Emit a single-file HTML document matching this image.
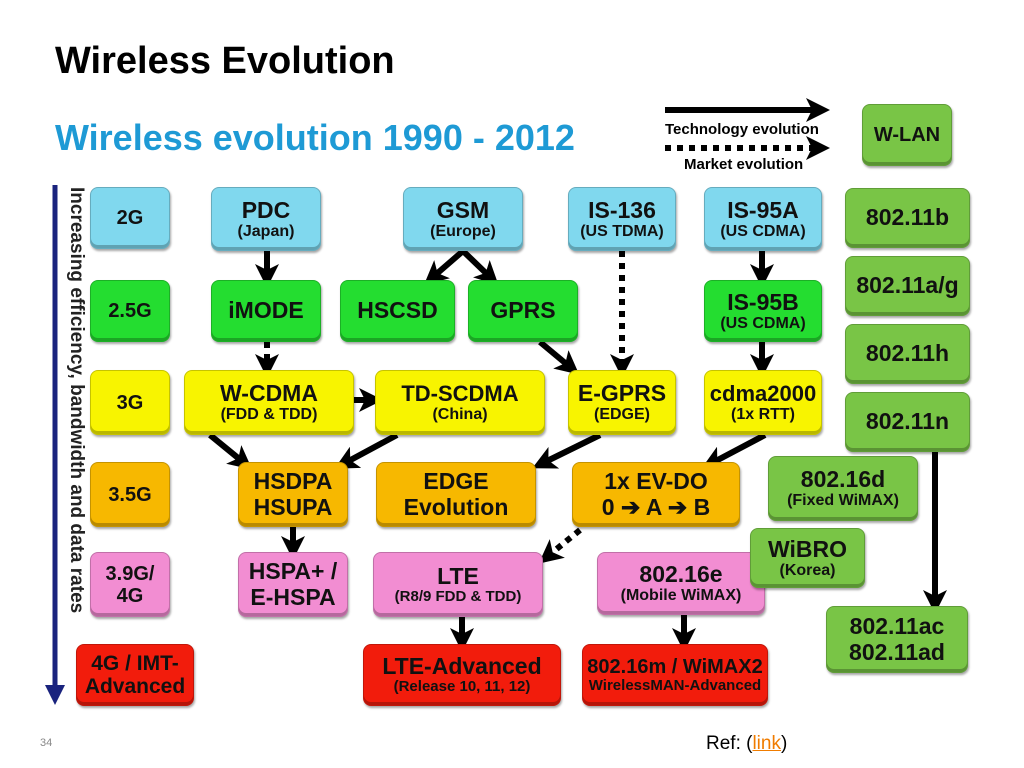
<!DOCTYPE html>
<html><head><meta charset="utf-8"><style>
body{margin:0;width:1024px;height:768px;background:#fff;position:relative;overflow:hidden;font-family:"Liberation Sans",sans-serif}
.b{position:absolute;box-sizing:border-box;border-radius:8px;display:flex;flex-direction:column;align-items:center;justify-content:center;text-align:center;font-weight:bold;color:#111;box-shadow:inset 0 -3px 0 rgba(0,0,0,.25),1px 2px 2px rgba(0,0,0,.35);border:1px solid rgba(0,0,0,.2);line-height:1.1;white-space:nowrap}
.s{font-size:16px}
.c{background:#80d8ee}.g{background:#24dd30}.y{background:#f8f400}.o{background:#f7b800}.p{background:#f28dd2}.r{background:#f21c0c}.l{background:#79c546}
</style></head><body>
<div style="position:absolute;left:55px;top:40px;font-size:38px;font-weight:bold">Wireless Evolution</div>
<div style="position:absolute;left:55px;top:117px;font-size:36px;font-weight:bold;color:#1e9ad5">Wireless evolution 1990 - 2012</div>
<div style="position:absolute;left:665px;top:121px;font-size:15px;font-weight:bold">Technology evolution</div>
<div style="position:absolute;left:684px;top:156px;font-size:15px;font-weight:bold">Market evolution</div>
<div style="position:absolute;left:66px;top:187px;transform-origin:0 0;transform:translate(21px,0) rotate(90deg);font-size:19px;font-weight:bold;white-space:nowrap;color:#222;line-height:21px">Increasing efficiency, bandwidth and data rates</div>
<svg width="1024" height="768" style="position:absolute;left:0;top:0">
<defs><marker id="ah" markerWidth="4" markerHeight="4" refX="2" refY="2" orient="auto"><path d="M0,0 L4,2 L0,4 L1,2z" fill="#000"/></marker>
<marker id="bh" markerWidth="4" markerHeight="4" refX="2" refY="2" orient="auto"><path d="M0,0 L4,2 L0,4z" fill="#1a237e"/></marker></defs>
<g id="arr"></g>
</svg>
<div id="boxes"></div>
<div style="position:absolute;left:40px;top:737px;font-size:11px;color:#888">34</div>
<div style="position:absolute;left:706px;top:733px;font-size:19px">Ref: (<span style="color:#f07c00;text-decoration:underline">link</span>)</div>
<script>
const boxes=[
["2G","",90,187,80,62,"c","gen-2g"],["2.5G","",90,280,80,62,"g","gen-2-5g"],["3G","",90,370,80,65,"y","gen-3g"],
["3.5G","",90,462,80,65,"o","gen-3-5g"],["3.9G/<br>4G","",90,552,80,65,"p","gen-3-9g"],["4G / IMT-<br>Advanced","",76,644,118,62,"r","gen-4g"],
["PDC","(Japan)",211,187,110,64,"c","pdc"],["GSM","(Europe)",403,187,120,64,"c","gsm"],["IS-136","(US TDMA)",568,187,108,64,"c","is-136"],["IS-95A","(US CDMA)",704,187,118,64,"c","is-95a"],
["iMODE","",211,280,110,62,"g","imode"],["HSCSD","",340,280,115,62,"g","hscsd"],["GPRS","",468,280,110,62,"g","gprs"],["IS-95B","(US CDMA)",704,280,118,62,"g","is-95b"],
["W-CDMA","(FDD &amp; TDD)",184,370,170,65,"y","w-cdma"],["TD-SCDMA","(China)",375,370,170,65,"y","td-scdma"],["E-GPRS","(EDGE)",568,370,108,65,"y","e-gprs"],["cdma2000","(1x RTT)",704,370,118,65,"y","cdma2000"],
["HSDPA<br>HSUPA","",238,462,110,65,"o","hsdpa"],["EDGE<br>Evolution","",376,462,160,65,"o","edge-evolution"],["1x EV-DO<br>0 ➔ A ➔ B","",572,462,168,65,"o","ev-do"],
["HSPA+ /<br>E-HSPA","",238,552,110,65,"p","hspa-plus"],["LTE","(R8/9 FDD &amp; TDD)",373,552,170,65,"p","lte"],["802.16e","(Mobile WiMAX)",597,552,168,63,"p","wimax-16e"],
["802.16d","(Fixed WiMAX)",768,456,150,65,"l","wimax-16d"],["WiBRO","(Korea)",750,528,115,60,"l","wibro"],
["LTE-Advanced","(Release 10, 11, 12)",363,644,198,62,"r","lte-advanced"],["802.16m / WiMAX2","WirelessMAN-Advanced",582,644,186,62,"r","wimax2"],
["W-LAN","",862,104,90,62,"l","w-lan"],["802.11b","",845,188,125,60,"l","wifi-11b"],["802.11a/g","",845,256,125,60,"l","wifi-11ag"],
["802.11h","",845,324,125,60,"l","wifi-11h"],["802.11n","",845,392,125,60,"l","wifi-11n"],["802.11ac<br>802.11ad","",826,606,142,67,"l","wifi-11ac"]];
const arrows=[
[55,185,55,695,0,1],[665,110,818,110,0,0],[665,148,818,148,1,0],
[267,251,267,276,0,0],[267,342,267,366,1,0],[463,251,433,277,0,0],[463,251,490,277,0,0],
[622,251,622,366,1,0],[762,251,762,276,0,0],[762,342,762,366,0,0],[540,342,570,367,0,0],
[354,400,371,400,0,0],[210,435,243,462,0,0],[397,435,345,463,0,0],[600,435,543,463,0,0],[765,435,712,463,0,0],
[293,527,293,548,0,0],[580,530,548,556,1,0],[462,617,462,640,0,0],[684,615,684,640,0,0],[935,452,935,602,0,0]];
const svg=document.getElementById('arr');
for(const a of arrows){const ln=document.createElementNS('http://www.w3.org/2000/svg','line');
ln.setAttribute('x1',a[0]);ln.setAttribute('y1',a[1]);ln.setAttribute('x2',a[2]);ln.setAttribute('y2',a[3]);
ln.setAttribute('stroke',a[5]?'#1a237e':'#000');ln.setAttribute('stroke-width',a[5]?5:6);
if(a[4])ln.setAttribute('stroke-dasharray','6 6');ln.setAttribute('marker-end',a[5]?'url(#bh)':'url(#ah)');


svg.appendChild(ln);}
const host=document.getElementById('boxes');
for(const b of boxes){const d=document.createElement('div');d.className='b '+b[6];
d.style.left=b[2]+'px';d.style.top=b[3]+'px';d.style.width=b[4]+'px';d.style.height=b[5]+'px';
let fs=23;
if(b[4]<=90)fs=20;
if(b[0].indexOf('802.16m')>=0)fs=20;
if(b[0].indexOf('cdma2000')>=0||b[0].indexOf('TD-SCDMA')>=0)fs=22;
if(b[7]==='gen-4g')fs=21;
d.innerHTML='<div style="font-size:'+fs+'px">'+b[0]+'</div>'+(b[1]?'<div class="s"'+(b[1].length>16?' style="font-size:15px"':'')+'>'+b[1]+'</div>':'');


host.appendChild(d);}
</script>
</body></html>
